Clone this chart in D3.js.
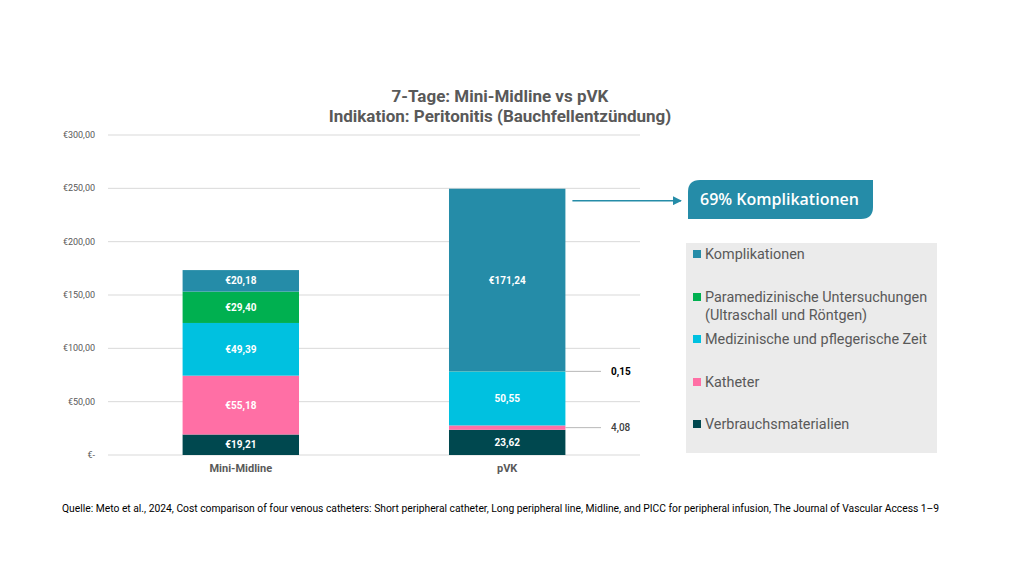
<!DOCTYPE html>
<html>
<head>
<meta charset="utf-8">
<script src="https://cdn.jsdelivr.net/npm/d3@7"></script>
<style>
  body { margin: 0; background: #fff; }
  svg { display: block; }
</style>
</head>
<body>
<div id="chart"></div>
<script>
// Stacked cost bars, 7 days, Mini-Midline vs pVK

const categories = ["Mini-Midline", "pVK"];
const seriesNames = ["Verbrauchsmaterialien", "Katheter", "Medizinische und pflegerische Zeit",
    "Paramedizinische Untersuchungen", "Komplikationen"];
const miniMidline = [19.21, 55.18, 49.39, 29.40, 20.18];
const pvk = [23.62, 4.08, 50.55, 0.15, 171.24];
const miniLabels = ["€19,21", "€55,18", "€49,39", "€29,40", "€20,18"];
const pvkLabels = ["23,62", "4,08", "50,55", "0,15", "€171,24"];
const yTicks = [0, 50, 100, 150, 200, 250, 300];
const yTickLabels = ["€-", "€50,00", "€100,00", "€150,00", "€200,00", "€250,00", "€300,00"];
const legendItems = [
    ["Komplikationen"],
    ["Paramedizinische Untersuchungen", "(Ultraschall und Röntgen)"],
    ["Medizinische und pflegerische Zeit"],
    ["Katheter"],
    ["Verbrauchsmaterialien"]
];
const legendKeys = [4, 3, 2, 1, 0];

const COLORS = ["#00484F", "#FF6FA5", "#00C1E0", "#00B050", "#258CA8"];

const width = 1024, height = 576;
const svg = d3.select("#chart").append("svg")
    .attr("width", width)
    .attr("height", height);

const font = "Roboto, 'Noto Sans', Arial, sans-serif";
const plotLeft = 108, plotRight = 640;

const x = d3.scaleBand()
    .domain(categories)
    .range([plotLeft, plotRight])
    .paddingInner(0.563)
    .paddingOuter(0.28);

const y = d3.scaleLinear()
    .domain([0, 300])
    .range([455, 135]);

// gridlines
svg.append("g")
    .selectAll("line")
    .data(yTicks)
    .join("line")
    .attr("x1", plotLeft)
    .attr("x2", plotRight)
    .attr("y1", d => y(d))
    .attr("y2", d => y(d))
    .attr("stroke", "#d9d9d9")
    .attr("stroke-width", 1);

svg.append("g")
    .selectAll("text")
    .data(yTicks)
    .join("text")
    .attr("x", 95)
    .attr("y", d => y(d) + 3)
    .attr("text-anchor", "end")
    .attr("font-family", font)
    .attr("font-size", "9px")
    .attr("fill", "#595959")
    .text((d, i) => yTickLabels[i]);

// stacked bars
const rows = [miniMidline, pvk];
const rowLabels = [miniLabels, pvkLabels];

rows.forEach((vals, r) => {
    const cat = categories[r];
    let base = 0;
    vals.forEach((v, i) => {
        const y0 = y(base), y1 = y(base + v);
        svg.append("rect")
            .attr("x", x(cat))
            .attr("y", y1)
            .attr("width", x.bandwidth())
            .attr("height", y0 - y1)
            .attr("fill", COLORS[i]);

        const mid = (y0 + y1) / 2;
        if (v > 10) {
            svg.append("text")
                .attr("x", x(cat) + x.bandwidth() / 2)
                .attr("y", mid + 3.5)
                .attr("text-anchor", "middle")
                .attr("font-family", font)
                .attr("font-weight", "bold")
                .attr("font-size", "10px")
                .attr("fill", "#fff")
                .text(rowLabels[r][i]);
        } else {
            // leader line for thin segments
            const ly = r === 1 && i === 3 ? y1 : mid;
            svg.append("line")
                .attr("x1", x(cat) + x.bandwidth())
                .attr("x2", 601)
                .attr("y1", ly)
                .attr("y2", ly)
                .attr("stroke", "#a6a6a6")
                .attr("stroke-width", 0.8);
            svg.append("text")
                .attr("x", 611)
                .attr("y", ly + 3.5)
                .attr("font-family", font)
                .attr("font-weight", i === 3 ? "bold" : 500)
                .attr("font-size", "10px")
                .attr("fill", i === 3 ? "#000" : "#404040")
                .text(rowLabels[r][i]);
        }
        base += v;
    });
});

// category labels
svg.append("g")
    .selectAll("text")
    .data(categories)
    .join("text")
    .attr("x", d => x(d) + x.bandwidth() / 2)
    .attr("y", 472)
    .attr("text-anchor", "middle")
    .attr("font-family", font)
    .attr("font-weight", "bold")
    .attr("font-size", "11px")
    .attr("fill", "#595959")
    .text(d => d);

// title
const title = ["7-Tage: Mini-Midline vs pVK", "Indikation: Peritonitis (Bauchfellentzündung)"];
title.forEach((t, i) => {
    svg.append("text")
        .attr("x", 500)
        .attr("y", 102 + i * 20)
        .attr("text-anchor", "middle")
        .attr("font-family", font)
        .attr("font-weight", "bold")
        .attr("font-size", "17px")
        .attr("fill", "#595959")
        .text(t);
});

// arrow + callout
const pvkTop = y(d3.sum(pvk));
svg.append("defs").append("marker")
    .attr("id", "arrow")
    .attr("viewBox", "0 0 10 10")
    .attr("refX", 9)
    .attr("refY", 5)
    .attr("markerWidth", 6)
    .attr("markerHeight", 6)
    .attr("orient", "auto")
    .append("path")
    .attr("d", "M0,0 L10,5 L0,10 Z")
    .attr("fill", "#258CA8");

svg.append("line")
    .attr("x1", x("pVK") + x.bandwidth() + 7)
    .attr("x2", 681)
    .attr("y1", pvkTop + 12)
    .attr("y2", pvkTop + 12)
    .attr("stroke", "#258CA8")
    .attr("stroke-width", 1.5)
    .attr("marker-end", "url(#arrow)");

const bx = 688, by = 180, bw = 185, bh = 39, rr = 12;
svg.append("path")
    .attr("d", `M${bx + rr},${by} H${bx + bw} V${by + bh - rr} Q${bx + bw},${by + bh} ${bx + bw - rr},${by + bh} H${bx} V${by + rr} Q${bx},${by} ${bx + rr},${by} Z`)
    .attr("fill", "#258CA8");

svg.append("text")
    .attr("x", bx + bw / 2 - 1)
    .attr("y", by + bh / 2 + 5.5)
    .attr("text-anchor", "middle")
    .attr("font-family", "'Open Sans', sans-serif")
    .attr("font-weight", 600)
    .attr("font-size", "16px")
    .attr("fill", "#fff")
    .text("69% Komplikationen");

// legend
svg.append("rect")
    .attr("x", 686)
    .attr("y", 243)
    .attr("width", 251)
    .attr("height", 210)
    .attr("fill", "#ebebeb");

const legendY = [254, 297, 339, 382, 424];
legendItems.forEach((lines, i) => {
    const ly = legendY[i];
    svg.append("rect")
        .attr("x", 693)
        .attr("y", ly - 4)
        .attr("width", 8)
        .attr("height", 8)
        .attr("fill", COLORS[legendKeys[i]]);
    lines.forEach((l, j) => {
        svg.append("text")
            .attr("x", 705)
            .attr("y", ly + 5 + j * 18)
            .attr("font-family", font)
            .attr("font-size", "14.4px")
            .attr("fill", "#595959")
            .text(l);
    });
});

// source
svg.append("text")
    .attr("x", 62)
    .attr("y", 512)
    .attr("font-family", font)
    .attr("font-size", "10.3px")
    .attr("fill", "#000")
    .text("Quelle: Meto et al., 2024, Cost comparison of four venous catheters: Short peripheral catheter, Long peripheral line, Midline, and PICC for peripheral infusion, The Journal of Vascular Access 1–9");
</script>
</body>
</html>
